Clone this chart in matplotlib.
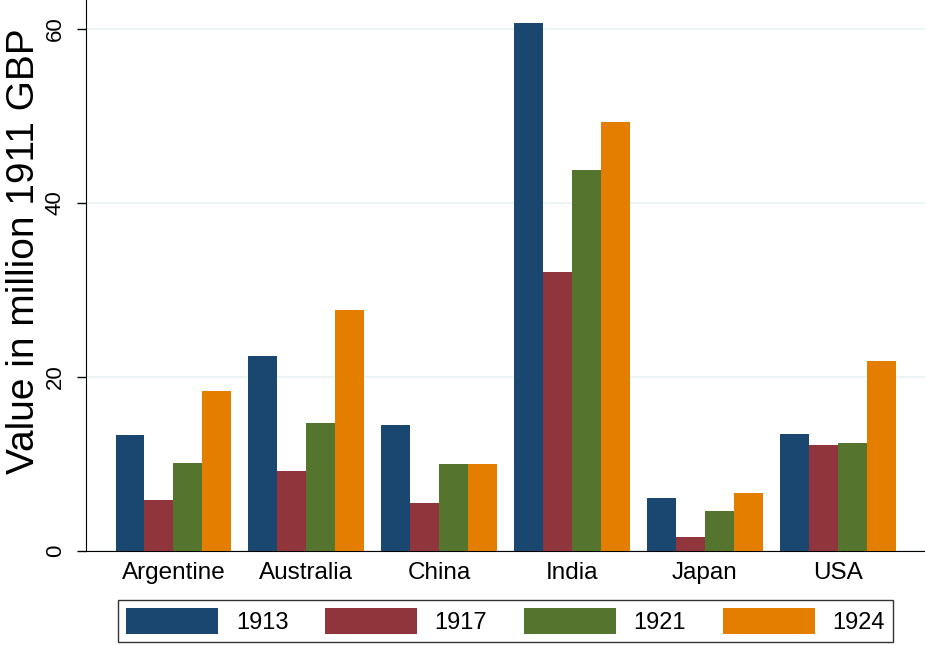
import matplotlib.pyplot as plt
import numpy as np

plt.rcParams['font.family'] = ['Liberation Sans', 'DejaVu Sans']

countries = ['Argentine', 'Australia', 'China', 'India', 'Japan', 'USA']
years = ['1913', '1917', '1921', '1924']
v1913 = [13.3, 22.4, 14.5, 60.7, 6.1, 13.4]
v1917 = [5.9, 9.2, 5.5, 32.1, 1.6, 12.2]
v1921 = [10.1, 14.7, 10.0, 43.8, 4.6, 12.4]
v1924 = [18.4, 27.7, 10.0, 49.3, 6.7, 21.8]
colors = ['#1a476f', '#90353b', '#55752f', '#e37e00']

fig = plt.figure(figsize=(9.25, 6.45), dpi=100)
ax = fig.add_axes([0.093, 0.1457, 0.907, 0.8543])

x = np.arange(len(countries))
w = 0.218
series = [v1913, v1917, v1921, v1924]
for i, vals in enumerate(series):
    ax.bar(x + (i - 1.5) * w, vals, width=w, color=colors[i], label=years[i], zorder=3)

ax.set_xlim(-0.658, 5.658)
ax.set_ylim(0, 63.3)
ax.set_xticks(x)
ax.set_xticklabels(countries, fontsize=17.5)
ax.tick_params(axis='x', length=0, pad=8)
ax.set_yticks([0, 20, 40, 60])
ax.set_yticklabels(['0', '20', '40', '60'], fontsize=16, rotation=90, va='center')
ax.tick_params(axis='y', length=6.5, width=1, pad=8)
ax.yaxis.grid(True, color='#eaf2f3', linewidth=1.2, zorder=0)
ax.set_ylabel('Value in million 1911 GBP', fontsize=28)
ax.yaxis.set_label_coords(-0.052, 0.5436)
ax.spines['top'].set_visible(False)
ax.spines['right'].set_visible(False)

leg = ax.legend(loc='upper center', bbox_to_anchor=(0.5, -0.089), ncol=4, fontsize=17,
                frameon=True, fancybox=False, edgecolor='black', handlelength=3.9,
                handleheight=1.3, columnspacing=1.55, handletextpad=0.75, borderpad=0.35,
                borderaxespad=0)
leg.get_frame().set_linewidth(1)

plt.savefig('out.png', dpi=100)
